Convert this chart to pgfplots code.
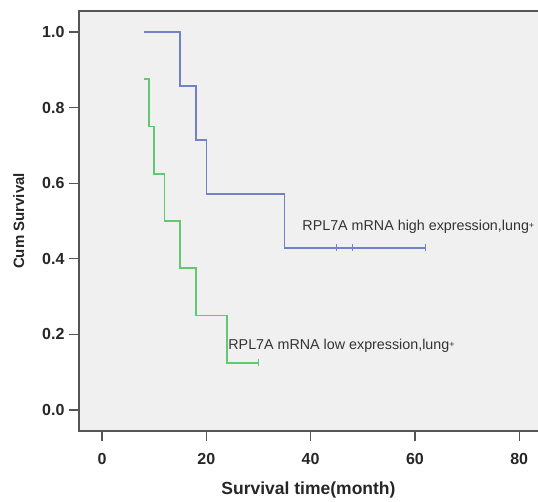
\documentclass[border=0pt]{standalone}
\usepackage{fontspec}
\setmainfont{Liberation Sans}
\usepackage{pgfplots}
\pgfplotsset{compat=1.18}
\usetikzlibrary{calc}

\definecolor{bgfill}{HTML}{F0F0F0}
\definecolor{framec}{HTML}{555555}
\definecolor{hiblue}{HTML}{7282C8}
\definecolor{logreen}{HTML}{62C872}

\begin{document}
\begin{tikzpicture}
\begin{axis}[
  name=ax,
  scale only axis,
  width=459pt, height=420pt,
  xmin=-4.41, xmax=83.6,
  ymin=-0.0556, ymax=1.0556,
  xtick={0,20,40,60,80},
  ytick={0,0.2,0.4,0.6,0.8,1.0},
  yticklabel style={/pgf/number format/.cd,fixed,fixed zerofill,precision=1},
  /pgf/number format/assume math mode=true,
  tick label style={font=\fontsize{16}{18}\selectfont\bfseries, text=black!85},
  tick align=outside,
  tick pos=left,
  major tick length=10pt,
  tick style={framec, line width=1.2pt},
  xticklabel shift=9pt,
  yticklabel shift=1pt,
  axis line style={draw=none},
  axis background/.style={fill=bgfill},
  xlabel={Survival time(month)},
  ylabel={Cum Survival},
  xlabel style={font=\fontsize{17.5}{19}\selectfont\bfseries, text=black!85, yshift=-10pt},
  ylabel style={font=\fontsize{15}{17}\selectfont\bfseries, text=black!85, yshift=11pt},
  clip=false,
]
\draw[framec, line width=1.4pt] (rel axis cs:1,1) -- (rel axis cs:0,1)
  -- (rel axis cs:0,0) -- (rel axis cs:1,0);

% high expression
\addplot[const plot, hiblue, line width=1.6pt] coordinates {
  (8,1.0) (15,0.857) (18,0.714) (20,0.571) (35,0.4286) (62,0.4286)
};
\addplot[only marks, hiblue, mark=|, mark size=3.5pt, line width=1pt] coordinates {
  (45,0.4286) (48,0.4286) (62,0.4286)
};

% low expression
\addplot[const plot, logreen, line width=1.6pt] coordinates {
  (8,0.875) (9,0.75) (10,0.625) (12,0.5) (15,0.375) (18,0.25) (24,0.125) (30,0.125)
};
\addplot[only marks, logreen, mark=|, mark size=3.5pt, line width=1pt] coordinates {
  (30,0.125)
};

\node[anchor=west, inner sep=0pt, font=\fontsize{14.3}{16}\selectfont, text=black!80]
  at (axis cs:38.4,0.484) {RPL7A mRNA high expression,lung\raisebox{0.25ex}{\small+}};
\node[anchor=west, inner sep=0pt, font=\fontsize{14.3}{16}\selectfont, text=black!80]
  at (axis cs:24.2,0.169) {RPL7A mRNA low expression,lung\raisebox{0.25ex}{\small+}};
\end{axis}
\pgfresetboundingbox
\path[use as bounding box] ($(ax.south west)+(-79pt,-70pt)$) rectangle ($(ax.north east)+(0pt,11pt)$);
\end{tikzpicture}
\end{document}
